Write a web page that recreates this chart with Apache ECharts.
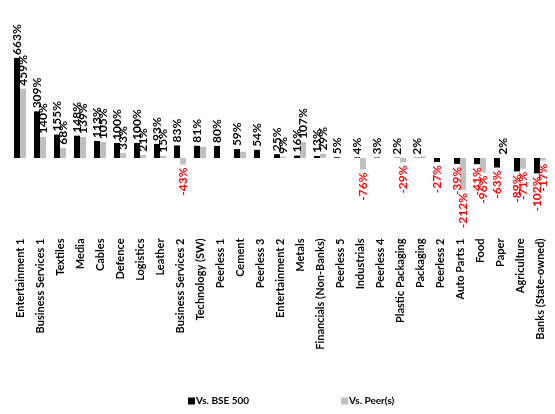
<!DOCTYPE html>
<html>
<head>
<meta charset="utf-8">
<script src="https://cdn.jsdelivr.net/npm/echarts@6/dist/echarts.min.js"></script>
<style>
  html, body { margin: 0; padding: 0; background: #fff; }
  #chart { width: 555px; height: 414px; }
</style>
</head>
<body>
<div id="chart"></div>
<script>
// Sector groups, ordered by relative performance vs. the BSE 500
const categories = [
  'Entertainment 1', 'Business Services 1', 'Textiles', 'Media', 'Cables',
  'Defence', 'Logistics', 'Leather', 'Business Services 2', 'Technology (SW)',
  'Peerless 1', 'Cement', 'Peerless 3', 'Entertainment 2', 'Metals',
  'Financials (Non-Banks)', 'Peerless 5', 'Industrials', 'Peerless 4',
  'Plastic Packaging', 'Packaging', 'Peerless 2', 'Auto Parts 1', 'Food',
  'Paper', 'Agriculture', 'Banks (State-owned)'
];

// Relative return vs. the BSE 500 index (%)
const vsBse500 = [
  663, 309, 155, 148, 113, 100, 100, 93, 83, 81,
  80, 59, 54, 25, 16, 13, 5, 4, 3,
  2, 2, -27, -39, -41, -63, -89, -102
];

// Relative return vs. listed peers (%)
const vsPeers = [
  459, 140, 68, 139, 105, 33, 21, 15, -43, 75,
  0, 42, 0, 9, 107, 29, 0, -76, 0,
  -29, 10, 0, -212, -96, 2, -71, -17
];

// Peer bars drawn without a value label
const peerUnlabelled = ['Technology (SW)', 'Cement', 'Packaging'];

const seriesNames = ['Vs. BSE 500', 'Vs. Peer(s)'];

const FONT = 'Lato, "Liberation Sans", sans-serif';

function labelFor(v, show) {
  if (!show || v === 0) return { show: false };
  const neg = v < 0;
  return {
    show: true,
    position: neg ? 'bottom' : 'top',
    rotate: 90,
    align: neg ? 'right' : 'left',
    verticalAlign: 'middle',
    distance: 3,
    color: neg ? '#ff0000' : '#000000',
    fontFamily: FONT,
    fontSize: 12,
    fontWeight: 'bold',
    formatter: v + '%'
  };
}

const bseData = vsBse500.map(v => ({ value: v, label: labelFor(v, true) }));
const peerData = vsPeers.map((v, i) => ({
  value: v,
  label: labelFor(v, peerUnlabelled.indexOf(categories[i]) < 0)
}));

const chart = echarts.init(document.getElementById('chart'), null, { renderer: 'canvas' });

chart.setOption({
  animation: false,
  backgroundColor: '#ffffff',
  grid: { left: 10, right: 5, top: 52.3, height: 181.2 },
  legend: {
    data: seriesNames,
    left: 183,
    top: 391,
    itemWidth: 7,
    itemHeight: 7,
    itemGap: 92,
    icon: 'rect',
    textStyle: { fontFamily: FONT, fontSize: 10, fontWeight: 'bold', color: '#000', padding: [0, 0, 0, -4] }
  },
  xAxis: {
    type: 'category',
    data: categories,
    axisLine: { show: false, onZero: false },
    axisTick: { show: false },
    axisLabel: {
      interval: 0,
      rotate: 90,
      margin: 5,
      color: '#000',
      fontFamily: FONT,
      fontSize: 11,
      fontWeight: 'bold'
    }
  },
  yAxis: {
    type: 'value',
    min: -500,
    max: 700,
    show: false,
    splitLine: { show: false }
  },
  series: [
    {
      name: seriesNames[0],
      type: 'bar',
      data: bseData,
      barWidth: 6,
      barGap: '0%',
      itemStyle: { color: '#000000' }
    },
    {
      name: seriesNames[1],
      type: 'bar',
      data: peerData,
      barWidth: 6,
      itemStyle: { color: '#bfbfbf' }
    }
  ]
});
</script>
</body>
</html>
